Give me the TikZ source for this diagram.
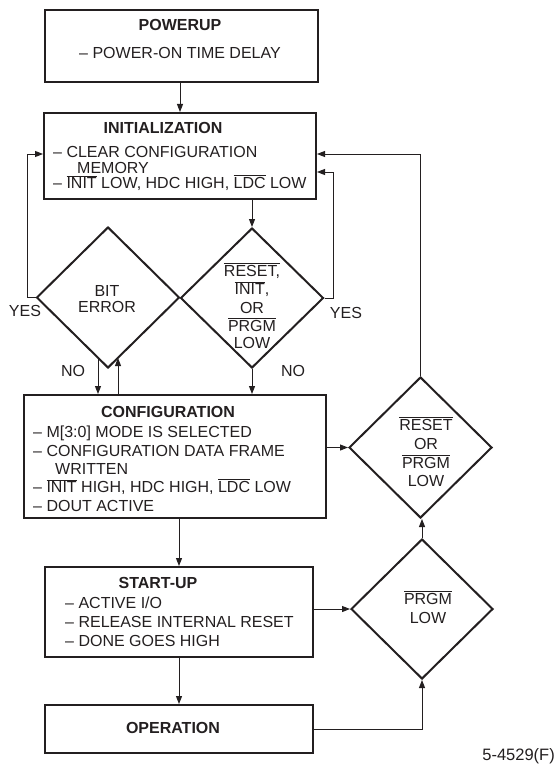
\documentclass[tikz,border=0pt]{standalone}
\usepackage{fontspec}
\setmainfont{Liberation Sans}
\usetikzlibrary{shapes.geometric,arrows.meta}
\newcommand\ovl[1]{\leavevmode\vbox{\hrule height 0.9pt\kern 1.3pt\hbox{#1}}}
\definecolor{ink}{HTML}{231F20}
\tikzset{
  boxn/.style={draw=ink,line width=2pt,rectangle,inner sep=0pt},
  dia/.style={draw=ink,line width=2pt,diamond,inner sep=0pt},
  arr/.style={draw=ink,line width=1pt,-{Triangle[length=8pt,width=6pt]}},
  ln/.style={draw=ink,line width=1pt},
  tx/.style={text=ink,inner sep=0pt,text height=11.5pt,text depth=0pt,font=\fontsize{16}{19}\selectfont},
  lt/.style={tx,anchor=west},
  ct/.style={tx,anchor=center},
  bt/.style={tx,anchor=center,font=\fontsize{16}{19}\selectfont\bfseries},
}
\begin{document}
\begin{tikzpicture}[x=1pt,y=-1pt]
\useasboundingbox (0,0) rectangle (559,765);
% boxes
\node[boxn,minimum width=273pt,minimum height=72pt] (pwr) at (181.5,46) {};
\node[boxn,minimum width=272pt,minimum height=86pt] (init) at (180,156) {};
\node[boxn,minimum width=302pt,minimum height=123pt] (cfg) at (175,456.5) {};
\node[boxn,minimum width=268pt,minimum height=90pt] (stu) at (179,612) {};
\node[boxn,minimum width=268pt,minimum height=48pt] (op) at (179,729) {};
% diamonds
\node[dia,minimum width=143pt,minimum height=141pt] (bit) at (108,297.5) {};
\node[dia,minimum width=143pt,minimum height=140pt] (rs1) at (252,298) {};
\node[dia,minimum width=143pt,minimum height=141pt] (rs2) at (420.5,447.5) {};
\node[dia,minimum width=142pt,minimum height=140pt] (prg) at (422,609) {};
% texts
\node[bt] (t1) at (180,25) {POWERUP};
\node[ct] (t2) at (180,53) {– POWER-ON TIME DELAY};
\node[bt] (t3) at (163,128) {INITIALIZATION};
\node[lt] (t4) at (53,152) {– CLEAR CONFIGURATION};
\node[lt] (t5) at (77,167.5) {MEMORY};
\node[lt] (t6) at (53,183) {– \ovl{INIT} LOW, HDC HIGH, \ovl{LDC} LOW};
\node[ct] (t7) at (107,291) {BIT};
\node[ct] (t8) at (107,307) {ERROR};
\node[ct] (t9) at (252,271) {\ovl{RESET,}};
\node[ct] (t10) at (252,289) {\ovl{INIT},};
\node[ct] (t11) at (252,308) {OR};
\node[ct] (t12) at (252,326) {\ovl{PRGM}};
\node[ct] (t13) at (252,343) {LOW};
\node[bt] (t14) at (168,412) {CONFIGURATION};
\node[lt] (t15) at (33,432) {– M[3:0] MODE IS SELECTED};
\node[lt] (t16) at (33,451) {– CONFIGURATION DATA FRAME};
\node[lt] (t17) at (55,468.5) {WRITTEN};
\node[lt] (t18) at (33,487) {– \ovl{INIT} HIGH, HDC HIGH, \ovl{LDC} LOW};
\node[lt] (t19) at (33,506) {– DOUT ACTIVE};
\node[ct] (t20) at (426,425) {\ovl{RESET}};
\node[ct] (t21) at (426,444) {OR};
\node[ct] (t22) at (426,463) {\ovl{PRGM}};
\node[ct] (t23) at (426,481) {LOW};
\node[bt] (t24) at (158,583) {START-UP};
\node[lt] (t25) at (65,603) {– ACTIVE I/O};
\node[lt] (t26) at (65,622) {– RELEASE INTERNAL RESET};
\node[lt] (t27) at (65,641) {– DONE GOES HIGH};
\node[ct] (t28) at (428,599) {\ovl{PRGM}};
\node[ct] (t29) at (428,618) {LOW};
\node[bt] (t30) at (173,728) {OPERATION};
% labels
\node[ct] (l1) at (25,311) {YES};
\node[ct] (l2) at (346,313) {YES};
\node[ct] (l3) at (73,371) {NO};
\node[ct] (l4) at (293,371) {NO};
\node[tx,anchor=east,font=\fontsize{16.5}{19}\selectfont] (l5) at (555,755) {5-4529(F)};
% helper coordinates
\coordinate (la) at (27,154);
\coordinate (ra) at (333,172);
\coordinate (ta) at (420.5,154);
\coordinate (bn) at (98,358);
\coordinate (bu) at (118,358);
% connectors
\draw[arr] (pwr.south -| init.north) -- (init.north);
\draw[arr] (init.south -| rs1.north) -- (rs1.north);
\draw[arr] (bit.west) -| (la) -- (init.west |- la);
\draw[arr] (rs1.east) -| (ra) -- (init.east |- ra);
\draw[arr] (bn) -- (bn |- cfg.north);
\draw[arr] (bu |- cfg.north) -- (bu);
\draw[arr] (rs1.south) -- (rs1.south |- cfg.north);
\draw[arr] (cfg.east |- rs2.west) -- (rs2.west);
\draw[arr] (rs2.north) -- (ta) -- (init.east |- ta);
\draw[arr] (stu.north |- cfg.south) -- (stu.north);
\draw[arr] (stu.south) -- (op.north);
\draw[arr] (stu.east |- prg.west) -- (prg.west);
\draw[arr] (prg.north) -- (prg.north |- rs2.south);
\draw[arr] (op.east) -| (prg.south);
\end{tikzpicture}
\end{document}
